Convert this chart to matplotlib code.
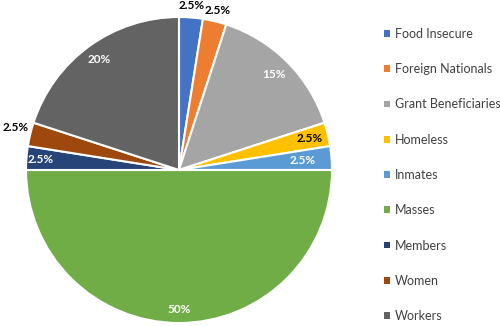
import matplotlib
matplotlib.use("Agg")
import matplotlib.pyplot as plt
from matplotlib.patches import Patch
import numpy as np

categories = ["Food Insecure", "Foreign Nationals", "Grant Beneficiaries", "Homeless",
              "Inmates", "Masses", "Members", "Women", "Workers"]
values = [2.5, 2.5, 15, 2.5, 2.5, 50, 2.5, 2.5, 20]
value_labels = ["2.5%", "2.5%", "15%", "2.5%", "2.5%", "50%", "2.5%", "2.5%", "20%"]

colors = ["#4472C4", "#ED7D31", "#A5A5A5", "#FFC000", "#5B9BD5",
          "#70AD47", "#264478", "#9E480E", "#636363"]
label_colors = ["black", "black", "white", "black", "white", "white", "white", "black", "white"]
label_r = [1.08, 1.07, 0.88, 0.88, 0.81, 0.91, 0.91, 1.10, 0.89]

plt.rcParams['font.family'] = ['Lato', 'DejaVu Sans']

fig = plt.figure(figsize=(5.0, 3.26), dpi=100)
ax = fig.add_axes([26/500, 3/326, 306/500, 306/326])
wedges, _ = ax.pie(values, colors=colors, startangle=90, counterclock=False,
                   radius=1.0, wedgeprops=dict(edgecolor="white", linewidth=1.5))
ax.set_xlim(-1, 1)
ax.set_ylim(-1, 1)
ax.set_aspect('equal')

for w, lab, c, r in zip(wedges, value_labels, label_colors, label_r):
    ang = np.deg2rad((w.theta1 + w.theta2) / 2)
    ax.text(r * np.cos(ang), r * np.sin(ang) + (0.02 if r > 1.09 else 0), lab,
            ha="center", va="center",
            color=c, fontsize=8.5, fontweight="bold", clip_on=False)

handles = [Patch(facecolor=col, edgecolor="none") for col in colors]
fig.legend(handles, categories, loc="upper left", bbox_to_anchor=(379/500, 1 - 23/326),
           frameon=False, fontsize=9, handlelength=0.45, handleheight=0.45,
           handletextpad=0.45, labelspacing=1.86, labelcolor="#404040", borderaxespad=0)

fig.savefig("out.png", dpi=100)
